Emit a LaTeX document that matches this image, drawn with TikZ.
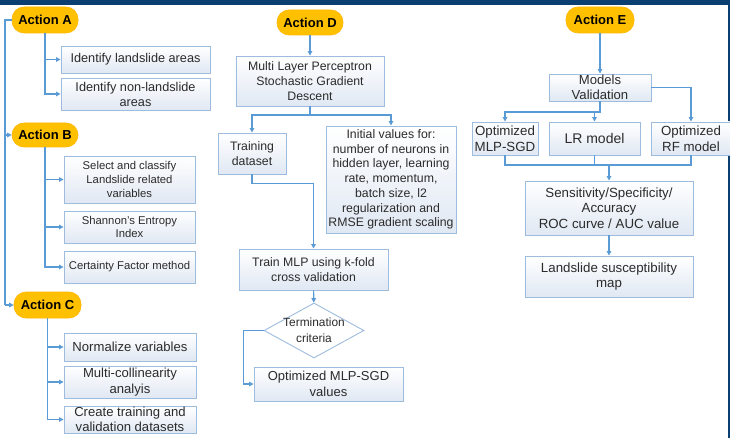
\documentclass[tikz,border=0pt]{standalone}
\usepackage{fontspec}
\setmainfont{Liberation Sans}
\usetikzlibrary{shapes.geometric,arrows.meta}

\definecolor{barblue}{HTML}{0B3F72}
\definecolor{linkblue}{HTML}{5B9BD5}
\definecolor{boxline}{HTML}{9EBCDD}
\definecolor{boxfill}{HTML}{E0E8F3}
\definecolor{pillgold}{HTML}{FFC000}
\definecolor{ink}{HTML}{2B2B2B}

\begin{document}
\begin{tikzpicture}[x=1pt,y=-1pt,
  font=\fontsize{13.1}{15.5}\selectfont,
  stepbox/.style={draw=boxline, line width=0.9pt, top color=white,
    bottom color=boxfill, text=ink, align=center, inner sep=0pt},
  fitsize/.style 2 args={font=\fontsize{#1}{#2}\selectfont},
  pillbox/.style={fill=pillgold, draw=pillgold!85!orange, line width=0.6pt,
    rounded corners=12pt, font=\fontsize{13}{15}\selectfont\bfseries,
    text=black, inner sep=0pt, minimum width=66pt, minimum height=26pt},
  decision/.style={diamond, draw=boxline, line width=0.9pt, fill=white,
    inner sep=0pt},
  link/.style={draw=linkblue, line width=1.1pt},
  arr/.style={link, -{Triangle[length=4.5pt,width=4.5pt]}}]

% page and frame bands
\useasboundingbox (0,0) rectangle (730,438);
\fill[white] (0,0) rectangle (730,438);
\fill[barblue] (0,0) rectangle (730,5);
\fill[barblue] (728,0) rectangle (730,438);

% ---------------- actions A, B, C ----------------
\node[pillbox] (A) at (45,20) {Action A};
\node[pillbox, minimum height=24pt] (B) at (45,135) {Action B};
\node[pillbox, minimum width=67pt] (C) at (47.5,305) {Action C};

\node[stepbox, fitsize={12.7}{15}, minimum width=149pt, minimum height=27pt] (a1) at (135.5,59.5) {Identify landslide areas};
\node[stepbox, fitsize={12.7}{15}, minimum width=149pt, minimum height=32pt] (a2) at (135.5,94) {Identify non-landslide\\areas};

\node[stepbox, fitsize={11.3}{13.6}, minimum width=131pt, minimum height=47pt] (b1) at (129.5,179.5) {Select and classify\\Landslide related\\variables};
\node[stepbox, fitsize={11.3}{13.6}, minimum width=131pt, minimum height=32pt] (b2) at (129.5,227) {Shannon's Entropy\\Index};
\node[stepbox, fitsize={11.3}{13.6}, minimum width=131pt, minimum height=32pt] (b3) at (129.5,267) {Certainty Factor method};

\node[stepbox, minimum width=132pt, minimum height=28pt] (c1) at (130,347) {Normalize variables};
\node[stepbox, minimum width=132pt, minimum height=32pt] (c2) at (130,382) {Multi-collinearity\\analyis};
\node[stepbox, minimum width=132pt, minimum height=27pt] (c3) at (130,419.5) {Create training and\\validation datasets};

% spine linking the first three actions
\coordinate (spine) at (5,20);
\draw[link] (A.west) -| (spine |- C.west);
\draw[arr] (spine |- B.west) -- (B.west);
\draw[arr] (spine |- C.west) -- (C.west);

\draw[arr] (A.south) |- (a2.west);
\draw[arr] (A.south |- a1.west) -- (a1.west);

\draw[arr] (B.south) |- (b3.west);
\draw[arr] (B.south |- b1.west) -- (b1.west);
\draw[arr] (B.south |- b2.west) -- (b2.west);

\draw[arr] (C.south) |- (c3.west);
\draw[arr] (C.south |- c1.west) -- (c1.west);
\draw[arr] (C.south |- c2.west) -- (c2.west);

% ---------------- action D ----------------
\node[pillbox, minimum height=25pt] (D) at (310,22.5) {Action D};
\node[stepbox, fitsize={12.3}{14.7}, minimum width=148pt, minimum height=50pt] (mlp) at (310,81) {Multi Layer Perceptron\\Stochastic Gradient\\Descent};
\node[stepbox, fitsize={12.3}{14.7}, minimum width=68pt, minimum height=41pt] (train) at (252,153.5) {Training\\dataset};
\node[stepbox, fitsize={12.3}{14.7}, minimum width=130pt, minimum height=107pt] (init) at (391,179.5) {Initial values for:\\number of neurons in\\hidden layer, learning\\rate, momentum,\\batch size, l2\\regularization and\\RMSE gradient scaling};
\node[stepbox, fitsize={12.3}{14.7}, minimum width=149pt, minimum height=41pt] (tmlp) at (313.5,269.5) {Train MLP using k-fold\\cross validation};
\node[decision, minimum width=100pt, minimum height=55pt] (term) at (314,330.5) {};
\node[fitsize={11.9}{15.5}, text=ink, align=center, inner sep=0pt] (termtext) at (314,330) {Termination\\criteria};
\node[stepbox, fitsize={13}{15.5}, minimum width=149pt, minimum height=34pt] (opt) at (328.5,384) {Optimized MLP-SGD\\values};

\coordinate (dsplit) at (310,115);
\draw[arr] (D) -- (mlp);
\draw[link] (mlp.south) -- (dsplit);
\draw[arr] (dsplit) -| (train.north);
\draw[arr] (dsplit) -| (init.north);
\draw[arr] (train.south) -- ++(0,9) -| (tmlp.north);
\draw[arr] (tmlp) -- (term);
\draw[arr] (term.west) -- ++(-20,0) |- (opt.west);

% ---------------- action E ----------------
\node[pillbox, minimum width=68pt] (E) at (600,20) {Action E};
\node[stepbox, minimum width=102pt, minimum height=27pt] (mv) at (600,87.5) {Models\\Validation};
\node[stepbox, fitsize={13.3}{15.5}, minimum width=66pt, minimum height=33pt] (e1) at (505,138.5) {Optimized\\MLP-SGD};
\node[stepbox, fitsize={14}{16}, minimum width=91pt, minimum height=33pt] (e2) at (594.5,138.5) {LR model};
\node[stepbox, fitsize={13.3}{15.5}, minimum width=80pt, minimum height=33pt] (e3) at (691,138.5) {Optimized\\RF model};
\node[stepbox, fitsize={13.3}{15.5}, minimum width=168pt, minimum height=54pt] (sens) at (609,208) {Sensitivity/Specificity/\\Accuracy\\ROC curve / AUC value};
\node[stepbox, fitsize={13.3}{15.5}, minimum width=168pt, minimum height=41pt] (map) at (609,276.5) {Landslide susceptibility\\map};

\coordinate (esplit) at (600,112);
\coordinate (emerge) at (609,165);
\draw[arr] (E) -- (mv);
\draw[arr] (mv.south) -- (esplit) -| (e1.north);
\draw[arr] (e2.north |- esplit) -- (e2.north);
\draw[arr] (mv.east) -| (e3.north);
\draw[link] (e1.south) -- (e1.south |- emerge) -- (e3.south |- emerge) -- (e3.south);
\draw[link] (e2.south) -- (e2.south |- emerge);
\draw[arr] (emerge) -- (sens.north);
\draw[arr] (sens) -- (map);

\end{tikzpicture}
\end{document}
